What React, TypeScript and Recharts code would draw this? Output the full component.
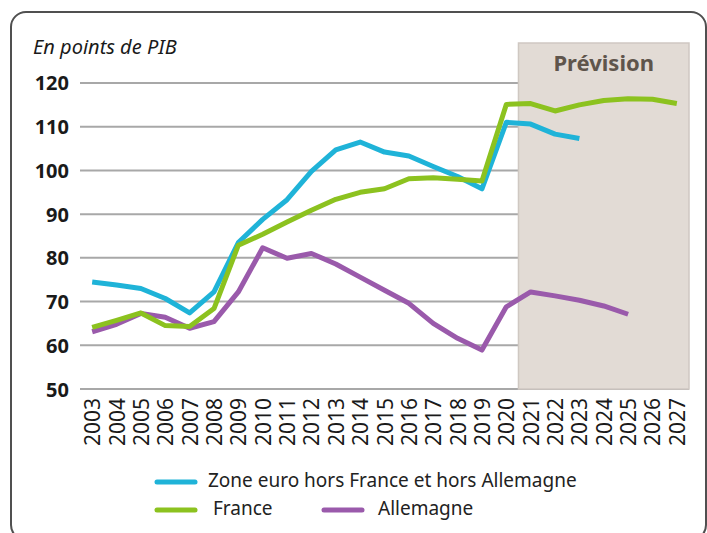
import React from 'react';
import {
  LineChart,
  Line,
  XAxis,
  YAxis,
  CartesianGrid,
  ReferenceArea,
} from 'recharts';

const years = [
  2003, 2004, 2005, 2006, 2007, 2008, 2009, 2010, 2011, 2012, 2013, 2014, 2015,
  2016, 2017, 2018, 2019, 2020, 2021, 2022, 2023, 2024, 2025, 2026, 2027,
];

const zoneEuro = [
  74.5, 73.8, 73.0, 70.7, 67.4, 72.2, 83.5, 88.8, 93.3, 99.8, 104.7, 106.5,
  104.2, 103.3, 100.9, 98.6, 95.8, 111.0, 110.6, 108.3, 107.3, null, null, null, null,
];

const france = [
  64.1, 65.7, 67.4, 64.5, 64.3, 68.4, 82.9, 85.4, 88.2, 90.9, 93.4, 95.0, 95.8,
  98.1, 98.3, 98.0, 97.6, 115.1, 115.3, 113.6, 115.0, 116.0, 116.4, 116.3, 115.3,
];

const allemagne = [
  63.1, 64.8, 67.3, 66.4, 63.9, 65.4, 72.2, 82.3, 79.9, 81.0, 78.6, 75.6, 72.6,
  69.6, 65.0, 61.6, 58.9, 68.8, 72.2, 71.3, 70.3, 69.0, 67.1, null, null,
];

const yTicks = [50, 60, 70, 80, 90, 100, 110, 120];

const seriesNames = {
  zone: 'Zone euro hors France et hors Allemagne',
  france: 'France',
  allemagne: 'Allemagne',
};

const colors = {
  zone: '#1fb3d8',
  france: '#8cc21f',
  allemagne: '#9a5aab',
};

const forecastStart = 2020.5;
const forecastEnd = 2027.5;

const data = years.map((y, i) => ({
  year: y,
  zone: zoneEuro[i],
  france: france[i],
  allemagne: allemagne[i],
}));

const FONT = '"Noto Sans", sans-serif';

const XTick = (props: any) => {
  const { x, y, payload } = props;
  return (
    <text
      x={x}
      y={y}
      transform={`rotate(-90, ${x}, ${y})`}
      textAnchor="end"
      dominantBaseline="central"
      fontSize={21}
      fontFamily={FONT}
      fill="#1a1a1a"
    >
      {payload.value}
    </text>
  );
};

const YTick = (props: any) => {
  const { x, y, payload } = props;
  return (
    <text
      x={x}
      y={y}
      textAnchor="end"
      dominantBaseline="central"
      fontSize={20}
      fontWeight={700}
      fontFamily={FONT}
      fill="#1a1a1a"
    >
      {payload.value}
    </text>
  );
};

const ForecastLabel = (props: any) => {
  const vb = props.viewBox || {};
  const cx = vb.x + vb.width / 2;
  return (
    <text
      x={cx}
      y={vb.y + 28}
      textAnchor="middle"
      fontSize={22}
      fontWeight={700}
      fontFamily={FONT}
      fill="#5f554c"
    >
      Prévision
    </text>
  );
};

const legendEntries = [
  { key: 'zone', sx: 155, ty: 487, tx: 208 },
  { key: 'france', sx: 155, ty: 515, tx: 213 },
  { key: 'allemagne', sx: 322, ty: 515, tx: 378 },
];

const LegendBlock = () => (
  <svg
    width={707}
    height={533}
    style={{ position: 'absolute', left: 0, top: 0, pointerEvents: 'none' }}
  >
    {legendEntries.map((e) => (
      <g key={e.key}>
        <line
          x1={e.sx + 2}
          x2={e.sx + 40}
          y1={e.ty - 5}
          y2={e.ty - 5}
          stroke={(colors as any)[e.key]}
          strokeWidth={5}
          strokeLinecap="round"
        />
        <text x={e.tx} y={e.ty} fontSize={19} fontFamily={FONT} fill="#222">
          {(seriesNames as any)[e.key]}
        </text>
      </g>
    ))}
  </svg>
);

export default function App() {
  return (
    <div
      style={{
        position: 'absolute',
        left: 0,
        top: 0,
        width: 707,
        height: 533,
        overflow: 'hidden',
        background: '#fff',
      }}
    >
      <div
        style={{
          position: 'absolute',
          left: 10,
          top: 11,
          width: 697,
          height: 530,
          border: '2px solid #505050',
          borderRadius: 16,
          boxSizing: 'border-box',
        }}
      />
      <div
        style={{
          position: 'absolute',
          left: 33,
          top: 33,
          fontFamily: FONT,
          fontStyle: 'italic',
          fontSize: 20,
          color: '#1a1a1a',
          lineHeight: '28px',
        }}
      >
        En points de PIB
      </div>
      <div style={{ position: 'absolute', left: 0, top: 0 }}>
        <LineChart
          width={707}
          height={533}
          data={data}
          margin={{ top: 43, right: 18, bottom: 0, left: 0 }}
        >
          <CartesianGrid
            vertical={false}
            horizontalValues={yTicks}
            stroke="#a8a8a8"
            strokeWidth={2}
          />
          <XAxis
            dataKey="year"
            type="number"
            domain={[2002.5, 2027.5]}
            ticks={years}
            interval={0}
            allowDataOverflow
            axisLine={false}
            tickLine={false}
            tickSize={0}
            tickMargin={9}
            height={144}
            tick={<XTick />}
          />
          <YAxis
            type="number"
            domain={[50, 129.15]}
            ticks={yTicks}
            allowDataOverflow
            axisLine={false}
            tickLine={false}
            tickSize={0}
            tickMargin={11}
            width={80}
            tick={<YTick />}
          />
          <ReferenceArea
            x1={forecastStart}
            x2={forecastEnd}
            y1={50}
            y2={129.15}
            fill="#e2dbd5"
            fillOpacity={1}
            stroke="#cfc8c2"
            strokeWidth={1.5}
            label={<ForecastLabel />}
          />
          <Line
            dataKey="zone"
            name={seriesNames.zone}
            stroke={colors.zone}
            strokeWidth={5}
            dot={false}
            activeDot={false}
            strokeLinejoin="round"
            isAnimationActive={false}
          />
          <Line
            dataKey="allemagne"
            name={seriesNames.allemagne}
            stroke={colors.allemagne}
            strokeWidth={5}
            dot={false}
            activeDot={false}
            strokeLinejoin="round"
            isAnimationActive={false}
          />
          <Line
            dataKey="france"
            name={seriesNames.france}
            stroke={colors.france}
            strokeWidth={5}
            dot={false}
            activeDot={false}
            strokeLinejoin="round"
            isAnimationActive={false}
          />
        </LineChart>
      </div>
      <LegendBlock />
    </div>
  );
}
